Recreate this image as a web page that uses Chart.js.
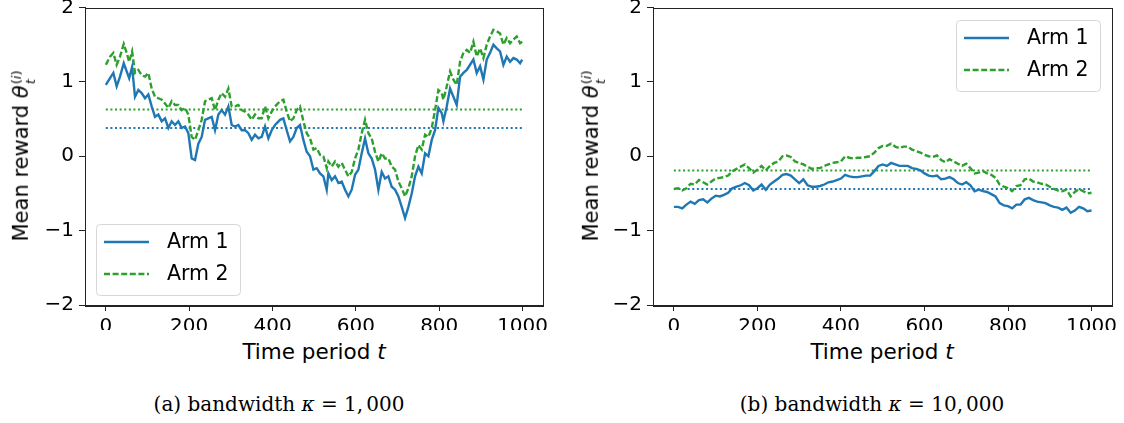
<!DOCTYPE html>
<html>
<head>
<meta charset="utf-8">
<script src="https://cdn.jsdelivr.net/npm/chart.js@4.4.1/dist/chart.umd.min.js"></script>
<style>
  body { margin: 0; background: #fff; }
  #page { position: relative; width: 1124px; height: 423px; overflow: hidden; background: #fff; }
  canvas { position: absolute; }
  .lab { position: absolute; transform: translate(-50%, -50%); white-space: nowrap; color: #000;
         font-family: 'DejaVu Sans', sans-serif; font-size: 21.5px; }
  .ylab { transform: translate(-50%, -50%) rotate(-90deg); font-size: 21px; }
  .ss { display: inline-flex; flex-direction: column; font-size: 13px; line-height: 1.05; vertical-align: 7px; margin-left: 1px; }
  .cap { position: absolute; transform: translate(-50%, -50%); white-space: nowrap; color: #000;
         font-family: 'DejaVu Serif', serif; font-size: 20px; }
</style>
</head>
<body>
<div id="page">
  <canvas id="chartA" width="600" height="342" style="left:0px; top:-12px"></canvas>
  <canvas id="chartB" width="564" height="342" style="left:560px; top:-12px"></canvas>

  <div class="lab" style="left:314px; top:351px">Time period <i>t</i></div>
  <div class="lab" style="left:882px; top:351px">Time period <i>t</i></div>
  <div class="lab ylab" style="left:23px; top:156px">Mean reward <i>θ</i><span class="ss"><span>(<i>i</i>)</span><span><i>t</i></span></span></div>
  <div class="lab ylab" style="left:593px; top:156px">Mean reward <i>θ</i><span class="ss"><span>(<i>i</i>)</span><span><i>t</i></span></span></div>

  <div class="cap" style="left:279px; top:404px">(a) bandwidth <i>κ</i> = 1,<span style="margin-left:3px">000</span></div>
  <div class="cap" style="left:872px; top:404px">(b) bandwidth <i>κ</i> = 10,<span style="margin-left:3px">000</span></div>
</div>
<script>
// ticks
const xTicks = [0, 200, 400, 600, 800, 1000];
const yTicks = [-2, -1, 0, 1, 2];

// panel (a): kappa = 1,000
const timeA = [0,10,18,26,34,43,50,56,63,70,78,86,94,102,110,118,126,134,142,150,158,166,174,182,190,198,206,214,222,230,
  238,246,254,262,270,278,286,294,302,310,318,326,334,342,350,358,366,374,382,390,398,406,418,426,434,442,450,458,466,474,
  482,490,498,506,514,522,530,534,542,550,558,566,574,582,590,598,606,614,622,630,638,646,654,662,670,678,686,694,702,710,
  718,726,734,742,750,758,766,774,782,790,798,806,810,818,826,834,842,850,858,866,874,882,890,898,906,914,922,930,938,946,
  954,962,970,978,986,994,999];
const arm1A = [0.96,1.05,1.12,0.94,1.07,1.25,1.14,1.05,1.20,0.80,0.89,0.85,0.78,0.83,0.67,0.53,0.56,0.47,0.51,0.38,
  0.47,0.42,0.47,0.38,0.40,0.31,-0.03,-0.05,0.17,0.26,0.49,0.51,0.53,0.35,0.56,0.62,0.56,0.67,0.42,0.40,
  0.42,0.35,0.35,0.31,0.22,0.29,0.24,0.26,0.40,0.24,0.35,0.42,0.49,0.51,0.35,0.20,0.26,0.38,0.42,0.22,
  0.06,0.00,-0.18,-0.16,-0.23,-0.27,-0.45,-0.23,-0.32,-0.27,-0.36,-0.34,-0.45,-0.54,-0.45,-0.25,-0.18,0.04,0.24,0.04,
  -0.03,-0.18,-0.45,-0.21,-0.30,-0.27,-0.41,-0.45,-0.54,-0.68,-0.83,-0.68,-0.50,-0.27,-0.14,-0.23,0.04,0.00,0.22,0.35,
  0.65,0.58,0.47,0.67,0.91,0.80,0.69,1.07,1.12,1.16,1.23,1.30,1.12,1.21,1.03,1.30,1.39,1.50,1.45,1.41,
  1.23,1.34,1.27,1.32,1.30,1.25,1.30];
const arm2A = [1.23,1.34,1.39,1.23,1.34,1.51,1.39,1.27,1.41,1.12,1.16,1.09,1.07,1.12,0.91,0.80,0.78,0.76,0.71,0.65,
  0.74,0.69,0.69,0.62,0.65,0.56,0.26,0.22,0.35,0.49,0.74,0.76,0.78,0.62,0.76,0.85,0.80,0.91,0.67,0.67,
  0.69,0.62,0.60,0.56,0.49,0.56,0.51,0.51,0.67,0.51,0.60,0.67,0.74,0.76,0.60,0.47,0.51,0.62,0.67,0.47,
  0.31,0.24,0.09,0.11,0.02,0.00,-0.16,-0.07,-0.14,-0.07,-0.14,-0.09,-0.18,-0.27,-0.21,-0.03,0.09,0.31,0.49,0.31,
  0.24,0.06,-0.07,0.04,-0.03,-0.03,-0.14,-0.18,-0.34,-0.43,-0.54,-0.43,-0.27,0.00,0.15,0.09,0.29,0.26,0.38,0.62,
  0.89,0.85,0.76,0.94,1.14,1.03,0.96,1.27,1.39,1.43,1.39,1.54,1.34,1.45,1.32,1.50,1.61,1.70,1.68,1.65,
  1.50,1.59,1.52,1.57,1.61,1.52,1.54];
const meanA = [0.38, 0.63];

// panel (b): kappa = 10,000
const timeB = Array.from({ length: 101 }, (_, i) => i * 10);
const arm1B = [-0.68,-0.68,-0.70,-0.65,-0.61,-0.64,-0.59,-0.58,-0.62,-0.57,
  -0.53,-0.54,-0.52,-0.49,-0.43,-0.41,-0.39,-0.36,-0.39,-0.46,
  -0.43,-0.38,-0.45,-0.38,-0.34,-0.30,-0.25,-0.24,-0.26,-0.31,
  -0.36,-0.31,-0.39,-0.41,-0.41,-0.40,-0.38,-0.35,-0.34,-0.32,
  -0.30,-0.25,-0.27,-0.28,-0.28,-0.27,-0.26,-0.26,-0.20,-0.13,
  -0.11,-0.13,-0.09,-0.11,-0.13,-0.13,-0.13,-0.16,-0.17,-0.19,
  -0.23,-0.26,-0.27,-0.26,-0.31,-0.30,-0.28,-0.31,-0.36,-0.38,
  -0.35,-0.39,-0.47,-0.45,-0.47,-0.48,-0.51,-0.54,-0.63,-0.66,
  -0.67,-0.70,-0.65,-0.65,-0.58,-0.56,-0.59,-0.61,-0.62,-0.63,
  -0.66,-0.68,-0.69,-0.72,-0.69,-0.76,-0.73,-0.68,-0.70,-0.74,
  -0.73];
const arm2B = [-0.44,-0.43,-0.46,-0.43,-0.37,-0.38,-0.32,-0.35,-0.38,-0.34,
  -0.30,-0.29,-0.28,-0.26,-0.20,-0.17,-0.14,-0.11,-0.16,-0.22,
  -0.18,-0.13,-0.19,-0.13,-0.09,-0.07,0.00,0.01,-0.01,-0.07,
  -0.09,-0.11,-0.14,-0.17,-0.16,-0.16,-0.13,-0.11,-0.09,-0.08,
  -0.07,0.00,-0.02,-0.03,-0.02,-0.02,-0.01,0.00,0.05,0.11,
  0.14,0.14,0.17,0.13,0.11,0.13,0.13,0.09,0.07,0.05,
  0.02,0.00,-0.01,0.01,-0.05,-0.08,-0.04,-0.07,-0.10,-0.13,
  -0.10,-0.16,-0.23,-0.22,-0.20,-0.23,-0.25,-0.29,-0.38,-0.41,
  -0.43,-0.47,-0.40,-0.39,-0.31,-0.30,-0.34,-0.35,-0.37,-0.38,
  -0.41,-0.44,-0.46,-0.47,-0.45,-0.54,-0.48,-0.44,-0.47,-0.50,
  -0.49];
const meanB = [-0.44, -0.19];

const BLUE = '#1f77b4';
const GREEN = '#2ca02c';
const FONT = "'DejaVu Sans', sans-serif";

// box round the plot + legend like matplotlib
const frameLegend = {
    id: 'frameLegend',
    afterDraw(chart, args, opts) {
        const { ctx, chartArea: a } = chart;
        ctx.save();
        ctx.strokeStyle = '#222';
        ctx.lineWidth = 1;
        ctx.strokeRect(Math.round(a.left) + 0.5, Math.round(a.top) + 0.5,
            Math.round(a.right - a.left), Math.round(a.bottom - a.top));

        const w = 144, h = 71;
        const x = opts.corner === 'lowerleft' ? a.left + 11 : a.right - 12 - w;
        const y = opts.corner === 'lowerleft' ? a.bottom - 10 - h : a.top + 12;
        ctx.fillStyle = 'rgba(255,255,255,0.8)';
        ctx.strokeStyle = '#d6d6d6';
        ctx.beginPath();
        ctx.roundRect(Math.round(x) + 0.5, Math.round(y) + 0.5, w, h, 4);
        ctx.fill();
        ctx.stroke();

        chart.data.datasets.slice(0, 2).forEach((ds, i) => {
            const ly = Math.round(y + 18 + i * 32);
            ctx.strokeStyle = ds.borderColor;
            ctx.lineWidth = ds.borderWidth;
            ctx.setLineDash(ds.borderDash || []);
            ctx.beginPath();
            ctx.moveTo(x + 8, ly);
            ctx.lineTo(x + 53, ly);
            ctx.stroke();
            ctx.setLineDash([]);
            ctx.fillStyle = '#000';
            ctx.font = '20.5px ' + FONT;
            ctx.textBaseline = 'middle';
            ctx.fillText(ds.label, x + 71, ly + 1);
        });
        ctx.restore();
    }
};

function pts(xs, ys) {
    return xs.map((x, i) => ({ x: x, y: ys[i] }));
}

function meanLine(xs, v) {
    return [{ x: xs[0], y: v }, { x: xs[xs.length - 1], y: v }];
}

function makeChart(id, time, arm1, arm2, means, corner, yWidth, padRight) {
    const ctx = document.getElementById(id);
    return new Chart(ctx, {
        type: 'line',
        data: {
            datasets: [{
                label: 'Arm 1',
                data: pts(time, arm1),
                borderColor: BLUE,
                borderWidth: 2.4,
            }, {
                label: 'Arm 2',
                data: pts(time, arm2),
                borderColor: GREEN,
                borderWidth: 2.4,
                borderDash: [6, 2.6],
            }, {
                label: 'mean 1',
                data: meanLine(time, means[0]),
                borderColor: BLUE,
                borderWidth: 2,
                borderDash: [2, 2.6],
            }, {
                label: 'mean 2',
                data: meanLine(time, means[1]),
                borderColor: GREEN,
                borderWidth: 2,
                borderDash: [2, 2.6],
            }]
        },
        options: {
            responsive: false,
            animation: false,
            elements: {
                point: { radius: 0 },
                line: { tension: 0, borderCapStyle: 'butt', fill: false }
            },
            layout: { padding: { top: 19.5, right: padRight, left: 0, bottom: 0 } },
            scales: {
                x: {
                    type: 'linear',
                    min: -50,
                    max: 1049,
                    afterBuildTicks: (s) => { s.ticks = xTicks.map(v => ({ value: v })); },
                    afterFit: (s) => { s.height = 25; },
                    grid: { drawOnChartArea: false, drawTicks: true, tickLength: 6, color: '#222' },
                    border: { color: '#222', width: 1 },
                    ticks: {
                        color: '#000', padding: 4, font: { family: FONT, size: 20 }, maxRotation: 0,
                        callback: (v) => String(v)
                    }
                },
                y: {
                    min: -2,
                    max: 2,
                    afterBuildTicks: (s) => { s.ticks = yTicks.map(v => ({ value: v })); },
                    afterFit: (s) => { s.width = yWidth; },
                    grid: { drawOnChartArea: false, drawTicks: true, tickLength: 6, color: '#222' },
                    border: { color: '#222', width: 1 },
                    ticks: {
                        color: '#000', padding: 5, font: { family: FONT, size: 20 },
                        callback: (v) => String(v).replace('-', '\u2212')
                    }
                }
            },
            plugins: {
                legend: { display: false },
                tooltip: { enabled: false },
                frameLegend: { corner: corner }
            }
        },
        plugins: [frameLegend]
    });
}

makeChart('chartA', timeA, arm1A, arm2A, meanA, 'lowerleft', 85, 57);
makeChart('chartB', timeB, arm1B, arm2B, meanB, 'upperright', 93, 12);
</script>
</body>
</html>
